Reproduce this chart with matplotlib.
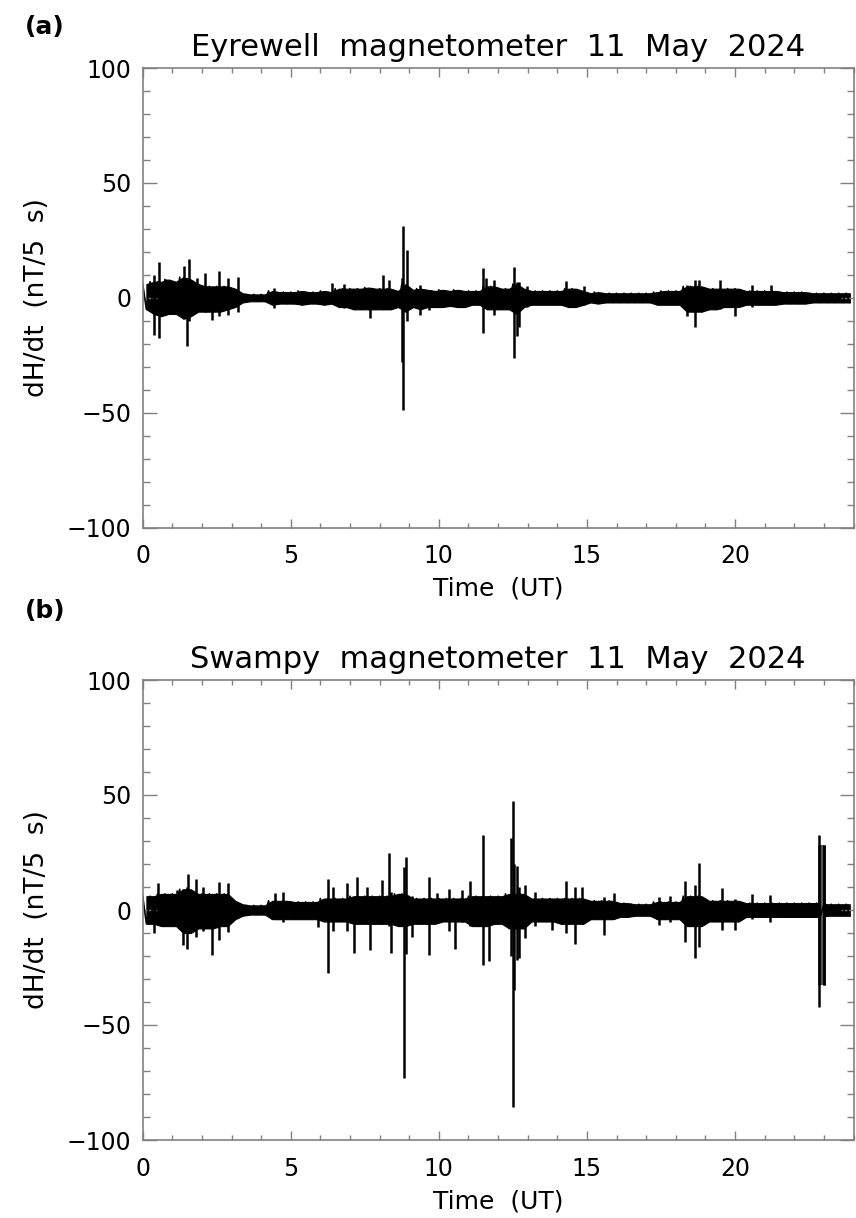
import numpy as np
import matplotlib
matplotlib.use("Agg")
import matplotlib.pyplot as plt
from matplotlib.ticker import MultipleLocator

# ---------------- data ----------------
# core envelope of the noise band in 0.25 h bins (bin start times 0 .. 23.75 UT)
bin_start = np.arange(0, 24, 0.25)

upper_a = [6, 7, 7, 8, 7, 9, 8, 6, 5, 5, 5, 5, 4, 2, 1.5, 1.5,
           1.5, 3, 2.5, 2.5, 2.5, 3, 2.5, 2.5, 3, 2.5, 4, 4, 4, 4, 4.5, 4,
           4, 4, 3, 6, 3.5, 4, 3.5, 3, 3.5, 3, 3.5, 3, 3, 3, 5, 5,
           4, 4, 6, 4, 3, 3, 3, 3, 3, 4, 4, 3, 2, 2.5, 2, 2,
           2, 2, 2, 2, 2, 2.5, 3, 3, 3, 5, 5, 5, 4, 4, 4, 4,
           4, 3, 3, 3, 3, 3, 2.5, 2.5, 2.5, 2.5, 2, 2, 2, 2, 2, 2]
lower_a = [-5, -7, -8, -7, -7, -9, -8, -6, -6, -6, -6, -5, -4, -2, -1.5, -1.5,
           -1.5, -3, -2.5, -2.5, -2.5, -3, -2.5, -2.5, -3, -2.5, -4, -4, -5, -5, -5, -5,
           -5, -5, -4, -6, -4, -5, -4, -4, -4, -3.5, -4, -4, -3, -3, -5, -5,
           -5, -5, -7, -4, -3, -3, -3, -3, -3, -4, -4, -3, -2, -2.5, -2, -2,
           -2, -2, -2, -2, -2, -3, -3, -3, -3, -6, -6, -6, -5, -5, -4, -4,
           -4, -3, -3, -3, -3, -3, -2.5, -2.5, -2.5, -2.5, -2, -2, -2, -2, -2, -2]

upper_b = [6, 6, 7, 7, 7, 9, 9, 7, 7, 7, 7, 7, 4, 2.5, 2, 2,
           2, 4, 4, 4, 3.5, 3.5, 3.5, 3.5, 5, 5, 5, 5, 6, 6, 6, 6,
           6, 6, 7, 7, 5, 5, 5, 5, 5, 5, 5, 5, 6, 6, 6, 6,
           6, 7, 7, 7, 5, 5, 5, 5, 5, 5, 5, 5, 4, 4, 4, 4,
           3, 3, 2.5, 2.5, 2.5, 3.5, 3.5, 3.5, 3.5, 6, 6, 6, 4, 4, 4, 4,
           4, 3, 3, 3, 3, 3, 3, 3, 3, 3, 3, 3, 2.5, 2.5, 2.5, 2.5]
lower_b = [-6, -6, -7, -7, -7, -10, -10, -8, -8, -8, -7, -7, -4, -2.5, -2, -2,
           -2, -4, -4, -4, -4, -4, -4, -4, -5, -5, -5, -5, -6, -6, -6, -6,
           -6, -6, -7, -7, -6, -6, -6, -6, -5, -5, -5, -5, -7, -7, -7, -6,
           -6, -8, -8, -8, -5, -5, -5, -5, -6, -6, -6, -6, -4, -4, -4, -4,
           -3, -3, -2.5, -2.5, -2.5, -4, -4, -4, -4, -7, -7, -7, -5, -5, -5, -5,
           -5, -3, -3, -3, -3, -3, -3, -3, -3, -3, -3, -3, -2.5, -2.5, -2.5, -2.5]

# individual excursions (time UT, max, min) in nT/5 s
spike_t_a = [0.38, 0.56, 0.8, 1.41, 1.49, 1.58, 1.85, 2.1, 2.33, 2.59, 2.89, 3.23,
             4.45, 6.38, 6.8, 7.68, 8.1, 8.3, 8.75, 8.8, 8.92, 9.37, 9.68,
             11.5, 11.6, 11.85, 12.52, 12.63, 12.7, 12.97, 14.3, 14.9,
             18.38, 18.64, 18.77, 19.5, 20.0, 20.57, 21.2]
spike_hi_a = [10, 15.5, 8, 14, 8, 17, 8.5, 10.7, 4, 11.7, 8.5, 9,
              4.2, 6.4, 6, 3, 10, 7.8, 8.5, 31.3, 20.9, 5.6, 3,
              13, 8.5, 7.8, 13.6, 7, 7, 5, 7.5, 5,
              5.6, 7.8, 7.8, 7.8, 3, 5.6, 5.6]
spike_lo_a = [-16, -17.5, -6, -9, -21, -10, -5, -6, -9.5, -7.8, -7.4, -6,
              -4.5, -2, -4.5, -8.8, -4, -5, -28, -48.7, -10, -7.4, -5.2,
              -15.4, -4, -7.4, -26.2, -16.5, -12.5, -4, -3, -3,
              -8.1, -12.5, -5, -5, -8.1, -4, -3]

spike_t_b = [0.38, 0.53, 1.15, 1.35, 1.49, 1.52, 1.8, 2.05, 2.33, 2.59, 2.89,
             4.47, 4.75, 5.93, 6.27, 6.44, 6.9, 7.12, 7.23, 7.57, 7.68, 8.07,
             8.3, 8.38, 8.81, 8.89, 9.09, 9.65, 9.93, 10.33, 10.55, 10.78,
             11.06, 11.49, 11.68, 12.44, 12.49, 12.52, 12.63, 12.7, 12.92,
             13.25, 13.82, 14.3, 14.6, 14.83, 15.56, 15.9, 17.42, 17.81,
             18.32, 18.64, 18.79, 19.56, 20.0, 20.57, 21.19, 22.85, 23.0]
spike_hi_b = [5, 11.9, 8.7, 9, 10, 15.7, 13.3, 10, 6, 12.3, 11.9,
              7.2, 8, 3, 13.3, 10, 11.6, 5, 14.2, 10, 5, 13,
              24.9, 8, 18.8, 23.2, 6, 14.2, 7.2, 9, 5, 8.7,
              12.8, 32.6, 6, 31.2, 47.5, 20, 19.1, 10, 10.9,
              8, 5, 12.8, 10.1, 10, 5.8, 7.5, 5.8, 6,
              12.8, 10.9, 20.3, 9.4, 5, 7, 6.5, 32.6, 28.3]
spike_lo_b = [-10, -6, -5, -15.2, -17, -8, -11.6, -9, -19.6, -13, -9.4,
              -4, -5, -7.2, -27.2, -9, -9, -18.5, -6, -5, -17.4, -6,
              -7, -18.5, -73.2, -19, -11.6, -19.6, -5, -9, -17.1, -5,
              -7, -23.9, -22, -20, -85.7, -34.8, -21.7, -21, -12.3,
              -7, -8.7, -10, -14.8, -6, -10.9, -4, -6.5, -5,
              -13.8, -21, -16, -8.7, -8.7, -4, -5, -42, -32.6]

# dense (grey-filled) burst in panel (b)
burst_t_b = [22.85, 23.0]
burst_hi_b = [28.3, 28.3]
burst_lo_b = [-32.6, -32.6]

titles = ["Eyrewell  magnetometer  11  May  2024", "Swampy  magnetometer  11  May  2024"]
panel_tags = ["(a)", "(b)"]
x_ticks = [0, 5, 10, 15, 20]
y_ticks = [-100, -50, 0, 50, 100]

# ---------------- figure ----------------
W, H = 856, 1218
fig = plt.figure(figsize=(W / 100, H / 100), dpi=100)
plt.rcParams['font.family'] = ['DejaVu Sans']

ax_l, ax_w = 142.7 / W, (853.5 - 142.7) / W
tops = [68, 680]
bots = [527.7, 1140]
tag_y = [27, 611]

spine_col = '#808080'

datasets = [
    (upper_a, lower_a, spike_t_a, spike_hi_a, spike_lo_a, None),
    (upper_b, lower_b, spike_t_b, spike_hi_b, spike_lo_b,
     (burst_t_b, burst_hi_b, burst_lo_b)),
]

for i, (up, lo, st, sh, sl, burst) in enumerate(datasets):
    b = 1 - bots[i] / H
    h = (bots[i] - tops[i]) / H
    ax = fig.add_axes([ax_l, b, ax_w, h])

    centres = bin_start + 0.125
    ax.fill_between(centres, lo, up, color='black', lw=0.8, edgecolor='black')
    zx, zy = [], []
    for t0, u, l in zip(bin_start, up, lo):
        zx += [t0, t0 + 0.125]
        zy += [u, l]
    ax.plot(zx, zy, color='black', lw=1.2)
    ax.vlines(st, sl, sh, color='black', lw=1.8)
    if burst is not None:
        ax.fill_between(burst[0], burst[2], burst[1], color='#555555', lw=0)
        ax.vlines(burst[0], burst[2], burst[1], color='black', lw=1.8)

    ax.set_xlim(0, 24)
    ax.set_ylim(-100, 100)
    ax.set_xticks(x_ticks)
    ax.set_yticks(y_ticks)
    ax.xaxis.set_minor_locator(MultipleLocator(1))
    ax.yaxis.set_minor_locator(MultipleLocator(10))
    ax.tick_params(axis='both', which='both', direction='in', top=True, right=True,
                   color=spine_col, width=1.0, labelsize=17, labelcolor='black')
    ax.tick_params(axis='x', which='major', length=6.5, pad=12)
    ax.tick_params(axis='x', which='minor', length=3.3)
    ax.tick_params(axis='y', which='major', length=10, pad=8)
    ax.tick_params(axis='y', which='minor', length=5)
    ax.set_yticklabels(['\u2212100', '\u221250', '0', '50', '100'])
    for s in ax.spines.values():
        s.set_color(spine_col)
        s.set_linewidth(1.2)

    ax.set_title(titles[i], fontsize=22, pad=9, color='black')
    ax.set_xlabel('Time  (UT)', fontsize=18, labelpad=6)
    ax.set_ylabel('dH/dt  (nT/5  s)', fontsize=19, labelpad=12)

    fig.text(25 / W, 1 - tag_y[i] / H, panel_tags[i], fontsize=18,
             fontweight='bold', ha='left', va='center')

fig.savefig('out.png', dpi=100)
